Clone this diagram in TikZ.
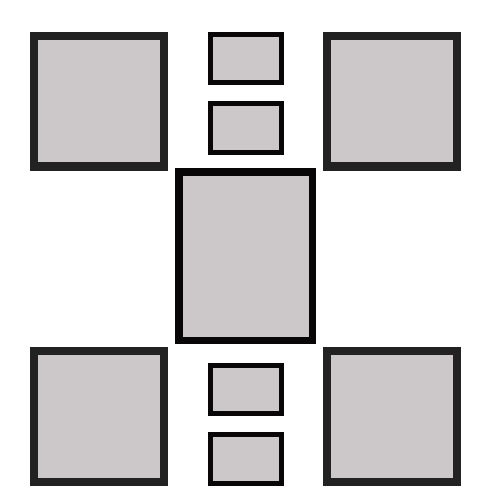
\documentclass[tikz,border=0pt]{standalone}
\begin{document}
\definecolor{mat}{RGB}{204,200,201}
\definecolor{darkframe}{RGB}{34,34,34}
\definecolor{blackframe}{RGB}{8,6,7}
\begin{tikzpicture} [x=0.01cm, y=-0.01cm,
    bigframe/.style={draw=darkframe, fill=mat, line width=0.08cm},
    smallframe/.style={draw=blackframe, fill=mat, line width=0.05cm},
    midframe/.style={draw=blackframe, fill=mat, line width=0.075cm}]
    \useasboundingbox (0,0) rectangle (500,500);
    \foreach \x in {34, 327}
      \foreach \y in {36, 351}
        \draw[bigframe] (\x,\y) rectangle ++(130,130.5);
    \foreach \y in {34.2, 103.5, 365.2, 434.5}
      \draw[smallframe] (210,\y) rectangle ++(71.5,48.6);
    \draw[midframe] (178.75,172) rectangle (312.25,340.5);
  \end{tikzpicture}
\end{document}
